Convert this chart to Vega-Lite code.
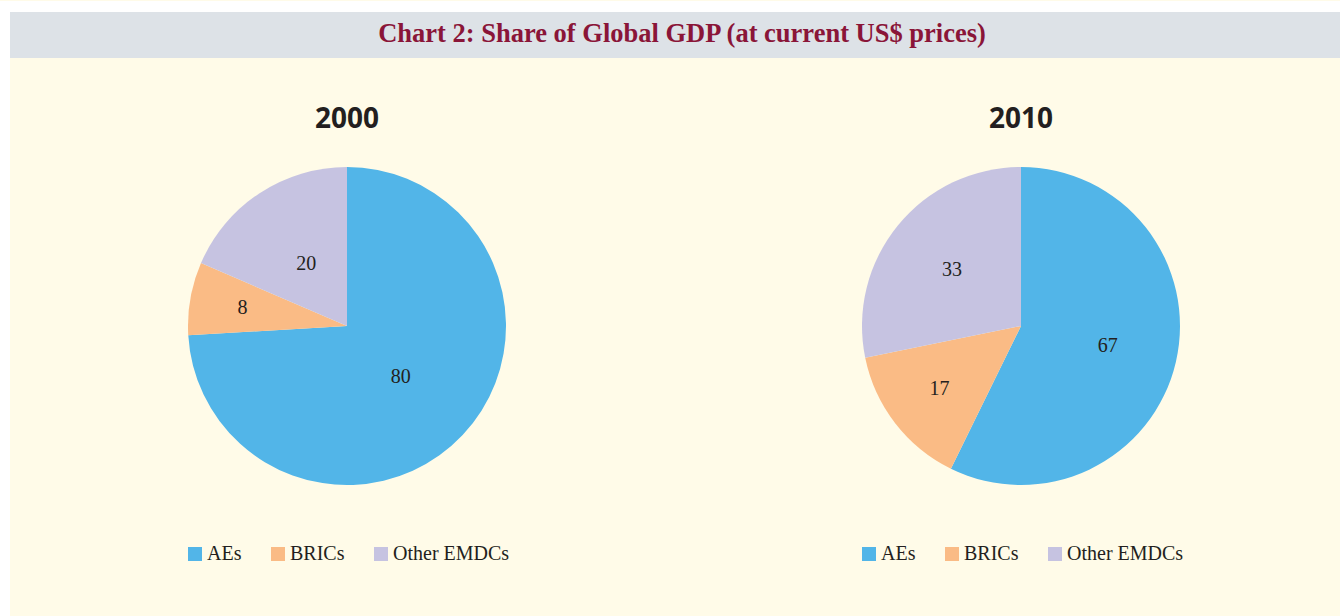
{
  "$schema": "https://vega.github.io/schema/vega-lite/v6.json",
  "background": "#fffbe8",
  "padding": 0,
  "datasets": {
    "gdp": [
      {"year": "2000", "category": "AEs", "value": 80},
      {"year": "2000", "category": "BRICs", "value": 8},
      {"year": "2000", "category": "Other EMDCs", "value": 20},
      {"year": "2010", "category": "AEs", "value": 67},
      {"year": "2010", "category": "BRICs", "value": 17},
      {"year": "2010", "category": "Other EMDCs", "value": 33}
    ],
    "blank": [{}],
    "heading": [{"text": "Chart 2: Share of Global GDP (at current US$ prices)"}]
  },
  "spacing": 0,
  "hconcat": [
    {
      "data": {"name": "blank"},
      "width": 10,
      "height": 616,
      "view": {"fill": "#ffffff", "stroke": null},
      "mark": {"type": "text", "text": ""}
    },
    {
      "spacing": 0,
      "vconcat": [
        {
          "data": {"name": "blank"},
          "width": 1330,
          "height": 11,
          "view": {"fill": "#ffffff", "stroke": null},
          "mark": {"type": "text", "text": ""}
        },
        {
          "data": {"name": "heading"},
          "width": 1330,
          "height": 46,
          "view": {"fill": "#dde2e7", "stroke": null},
          "mark": {"type": "text", "font": "Liberation Serif", "fontWeight": "bold", "fontSize": 26.5, "color": "#8a1538", "dx": 7, "dy": -1, "baseline": "middle", "align": "center"},
          "encoding": {"text": {"field": "text", "type": "nominal"}}
        },
        {
          "data": {"name": "blank"},
          "width": 1330,
          "height": 48,
          "mark": {"type": "text", "text": ""}
        },
        {
          "spacing": 0,
          "hconcat": [
            {
              "data": {"name": "blank"},
              "width": 175,
              "height": 1,
              "mark": {"type": "text", "text": ""}
            },
            {
              "spacing": 349,
              "resolve": {"scale": {"color": "independent"}},
              "hconcat": [
                {
                  "data": {"name": "gdp"},
                  "transform": [{"filter": "datum.year === '2000'"}],
                  "width": 324,
                  "height": 324,
                  "title": {"text": "2000", "offset": 30},
                  "encoding": {
                    "theta": {"field": "value", "type": "quantitative", "stack": true},
                    "order": {"field": "category", "type": "ordinal", "sort": "ascending"}
                  },
                  "layer": [
                    {
                      "mark": {"type": "arc", "outerRadius": 159},
                      "encoding": {
                        "color": {
                          "field": "category", "type": "nominal",
                          "scale": {"domain": ["AEs", "BRICs", "Other EMDCs"], "range": ["#52b5e8", "#fabb85", "#c6c3e1"]},
                          "legend": {"title": null}
                        }
                      }
                    },
                    {
                      "mark": {"type": "text", "radius": 74, "font": "Liberation Serif", "fontSize": 20, "color": "#231f20"},
                      "encoding": {
                        "detail": {"field": "category", "type": "nominal"},
                        "text": {"condition": {"test": "datum.category !== 'BRICs'", "field": "value", "type": "quantitative"}, "value": ""}
                      }
                    },
                    {
                      "mark": {"type": "text", "radius": 106, "font": "Liberation Serif", "fontSize": 20, "color": "#231f20"},
                      "encoding": {
                        "detail": {"field": "category", "type": "nominal"},
                        "text": {"condition": {"test": "datum.category === 'BRICs'", "field": "value", "type": "quantitative"}, "value": ""}
                      }
                    }
                  ]
                },
                {
                  "data": {"name": "gdp"},
                  "transform": [{"filter": "datum.year === '2010'"}],
                  "width": 324,
                  "height": 324,
                  "title": {"text": "2010", "offset": 30},
                  "encoding": {
                    "theta": {"field": "value", "type": "quantitative", "stack": true},
                    "order": {"field": "category", "type": "ordinal", "sort": "ascending"}
                  },
                  "layer": [
                    {
                      "mark": {"type": "arc", "outerRadius": 159},
                      "encoding": {
                        "color": {
                          "field": "category", "type": "nominal",
                          "scale": {"domain": ["AEs", "BRICs", "Other EMDCs"], "range": ["#52b5e8", "#fabb85", "#c6c3e1"]},
                          "legend": {"title": null}
                        }
                      }
                    },
                    {
                      "mark": {"type": "text", "radius": 89, "font": "Liberation Serif", "fontSize": 20, "color": "#231f20"},
                      "encoding": {
                        "detail": {"field": "category", "type": "nominal"},
                        "text": {"condition": {"test": "datum.category !== 'BRICs'", "field": "value", "type": "quantitative"}, "value": ""}
                      }
                    },
                    {
                      "mark": {"type": "text", "radius": 103, "font": "Liberation Serif", "fontSize": 20, "color": "#231f20"},
                      "encoding": {
                        "detail": {"field": "category", "type": "nominal"},
                        "text": {"condition": {"test": "datum.category === 'BRICs'", "field": "value", "type": "quantitative"}, "value": ""}
                      }
                    }
                  ]
                }
              ]
            }
          ]
        }
      ]
    }
  ],
  "config": {
    "view": {"stroke": null},
    "title": {"font": "Open Sans", "fontSize": 28, "fontWeight": "bold", "color": "#231f20", "anchor": "middle", "frame": "group"},
    "legend": {
      "orient": "bottom",
      "direction": "horizontal",
      "offset": 56,
      "padding": 0,
      "symbolType": "square",
      "symbolSize": 196,
      "symbolStrokeWidth": 0,
      "labelFont": "Liberation Serif",
      "labelFontSize": 20,
      "labelColor": "#231f20",
      "labelOffset": 2,
      "columnPadding": 26
    }
  }
}
